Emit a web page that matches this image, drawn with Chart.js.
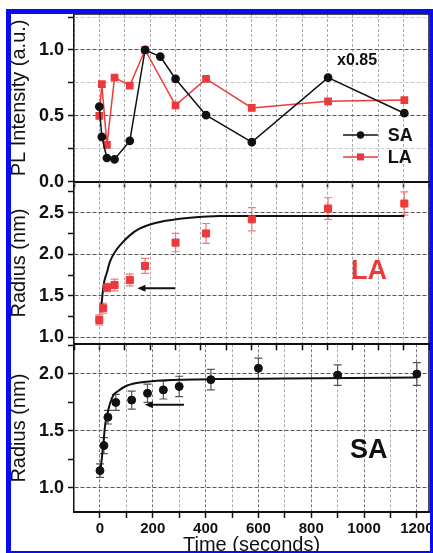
<!DOCTYPE html>
<html>
<head>
<meta charset="utf-8">
<script src="https://cdn.jsdelivr.net/npm/chart.js@4"></script>
<style>
  html, body { margin: 0; padding: 0; background: #fff; }
  #wrap { position: relative; width: 433px; height: 553px; overflow: hidden; background: #fff; }
  #wrap canvas { position: absolute; left: 0; top: 0; }
  #mask { position: absolute; left: 0; top: 0; width: 433px; height: 553px; box-sizing: border-box;
          border-style: solid; border-color: #fff; border-width: 9px 0 0 6px; z-index: 5; pointer-events: none; }
  #blue { width: 100%; height: 100%; box-sizing: border-box; border-style: solid; border-color: #0b0bf2;
          border-width: 5px 3px 2px 5px; }
</style>
</head>
<body>
<div id="wrap">
  <canvas id="plChart" width="460" height="553"></canvas>
  <canvas id="laChart" width="460" height="553"></canvas>
  <canvas id="saChart" width="460" height="565"></canvas>
  <div id="mask"><div id="blue"></div></div>
</div>
<script>
// --- données ---

// PL intensity (panneau du haut)
const plTimeSA = [0, 10, 30, 60, 120, 180, 240, 300, 420, 600, 900, 1200];
const plSA = [0.57, 0.34, 0.18, 0.17, 0.31, 1.0, 0.95, 0.78, 0.505, 0.30, 0.79, 0.52];
const plTimeLA = [0, 10, 30, 60, 120, 180, 300, 420, 600, 900, 1200];
const plLA = [0.50, 0.74, 0.28, 0.79, 0.73, 1.0, 0.58, 0.78, 0.56, 0.61, 0.62];

// Rayon LA (panneau du milieu)
const radTimeLA = [0, 15, 30, 60, 120, 180, 300, 420, 600, 900, 1200];
const radLA = [1.21, 1.35, 1.60, 1.63, 1.69, 1.86, 2.14, 2.25, 2.42, 2.55, 2.61];
const radErrLA = [0.06, 0.06, 0.05, 0.07, 0.07, 0.09, 0.11, 0.12, 0.14, 0.13, 0.14];
const fitTimeLA = [5, 9, 18, 29, 42, 62, 88, 121, 160, 213, 278, 357, 475, 700, 1200];
const fitLA = [1.30, 1.41, 1.65, 1.77, 1.91, 2.03, 2.13, 2.23, 2.31, 2.37, 2.41, 2.44, 2.46, 2.46, 2.46];

// Rayon SA (panneau du bas)
const radTimeSA = [0, 15, 30, 60, 120, 180, 240, 300, 420, 600, 900, 1200];
const radSA = [1.15, 1.37, 1.62, 1.75, 1.77, 1.83, 1.86, 1.89, 1.95, 2.05, 1.99, 2.00];
const radErrSA = [0.06, 0.07, 0.06, 0.07, 0.08, 0.08, 0.08, 0.09, 0.09, 0.09, 0.09, 0.10];
const fitTimeSA = [0, 6, 13, 19, 28, 38, 50, 69, 95, 139, 215, 316, 442, 700, 1200];
const fitSA = [1.11, 1.24, 1.39, 1.54, 1.65, 1.74, 1.81, 1.85, 1.89, 1.92, 1.94, 1.95, 1.955, 1.96, 1.97];

const FONT = '"Liberation Sans", Arial, sans-serif';
const RED = '#ec3a3c';
const INK = '#111';
Chart.defaults.font.family = FONT;

const pts = (t, v) => t.map((x, i) => ({ x: x, y: v[i] }));

// --- plugins ---

// cadre haut / droite
const frame = {
  id: 'frame',
  beforeDatasetsDraw(chart) {
    const { ctx, chartArea: a } = chart;
    ctx.save();
    ctx.strokeStyle = INK;
    ctx.lineWidth = 1.5;
    ctx.beginPath();
    ctx.moveTo(a.left, a.top); ctx.lineTo(a.right, a.top); ctx.lineTo(a.right, a.bottom);
    ctx.stroke();
    ctx.restore();
  }
};

// barres d'erreur
const errorBars = {
  id: 'errorBars',
  beforeDatasetsDraw(chart, args, opts) {
    const { ctx, scales: { x, y } } = chart;
    (opts.sets || []).forEach(s => {
      ctx.save();
      ctx.strokeStyle = s.color;
      ctx.lineWidth = 1.2;
      s.t.forEach((t, i) => {
        const px = x.getPixelForValue(t);
        const top = y.getPixelForValue(s.v[i] + s.e[i]);
        const bot = y.getPixelForValue(s.v[i] - s.e[i]);
        ctx.beginPath();
        ctx.moveTo(px, top); ctx.lineTo(px, bot);
        ctx.moveTo(px - 4, top); ctx.lineTo(px + 4, top);
        ctx.moveTo(px - 4, bot); ctx.lineTo(px + 4, bot);
        ctx.stroke();
      });
      ctx.restore();
    });
  }
};

// textes, flèches, légende
const notes = {
  id: 'notes',
  afterDatasetsDraw(chart, args, opts) {
    const { ctx, scales: { x, y } } = chart;
    ctx.save();
    (opts.texts || []).forEach(n => {
      ctx.font = n.font;
      ctx.fillStyle = n.color;
      ctx.textAlign = 'center';
      ctx.textBaseline = 'middle';
      ctx.fillText(n.text, x.getPixelForValue(n.x), y.getPixelForValue(n.y));
    });
    (opts.arrows || []).forEach(a => {
      const x1 = x.getPixelForValue(a.from), x2 = x.getPixelForValue(a.to), py = y.getPixelForValue(a.y);
      ctx.strokeStyle = INK; ctx.fillStyle = INK; ctx.lineWidth = 2;
      ctx.beginPath(); ctx.moveTo(x1, py); ctx.lineTo(x2 + 5, py); ctx.stroke();
      ctx.beginPath(); ctx.moveTo(x2, py); ctx.lineTo(x2 + 8, py - 3.5); ctx.lineTo(x2 + 8, py + 3.5);
      ctx.closePath(); ctx.fill();
    });
    (opts.legend || []).forEach(l => {
      const xa = x.getPixelForValue(l.from), xb = x.getPixelForValue(l.to), py = y.getPixelForValue(l.y);
      const xm = (xa + xb) / 2;
      ctx.strokeStyle = l.color; ctx.fillStyle = l.color; ctx.lineWidth = 1.5;
      ctx.beginPath(); ctx.moveTo(xa, py); ctx.lineTo(xb, py); ctx.stroke();
      ctx.beginPath();
      if (l.style === 'rect') ctx.rect(xm - 3.5, py - 3.5, 7, 7);
      else ctx.arc(xm, py, 3.7, 0, Math.PI * 2);
      ctx.fill();
      ctx.fillStyle = INK;
      ctx.font = 'bold 18px ' + FONT;
      ctx.textAlign = 'left';
      ctx.textBaseline = 'middle';
      ctx.fillText(l.label, x.getPixelForValue(l.textAt), py + 1);
    });
    ctx.restore();
  }
};

// --- axes ---

function xAxis(min, max, showLabels, height) {
  return {
    type: 'linear', min: min, max: max,
    afterFit: s => { s.height = height; },
    ticks: {
      stepSize: 100, includeBounds: false, display: showLabels, autoSkip: false, maxRotation: 0, padding: 2,
      color: INK, font: { size: 15, weight: 'bold' },
      callback: v => (v % 200 === 0 ? String(v) : '')
    },
    grid: {
      color: c => (c.tick && c.tick.value % 200 === 0 ? '#777' : '#aaa'),
      lineWidth: 1, tickLength: 6, tickColor: INK, tickWidth: 1.5
    },
    border: { color: INK, width: 2, dash: [3, 2] },
    title: {
      display: showLabels, text: 'Time (seconds)', color: INK,
      font: { size: 20 }, padding: { top: 0, bottom: 0 }
    }
  };
}

function yAxis(min, max, title, minorColor) {
  const major = v => Math.abs(v / 0.5 - Math.round(v / 0.5)) < 1e-6;
  return {
    min: min, max: max, position: 'left',
    afterFit: s => { s.width = 74; },
    ticks: {
      stepSize: 0.25, includeBounds: false, padding: 4, color: INK,
      font: { size: 18, weight: 'bold', lineHeight: 1 },
      callback: v => (major(v) ? v.toFixed(1) : '')
    },
    grid: {
      color: c => (c.tick && major(c.tick.value) ? '#555' : minorColor),
      lineWidth: 1, tickLength: 6, tickColor: INK, tickWidth: 1.5
    },
    border: { color: INK, width: 1.5, dash: [4, 2] },
    title: { display: true, text: title, color: INK, font: { size: 20 }, padding: { top: 7, bottom: 0 } }
  };
}

function baseOptions(padTop, padBottom, x, y, plugs) {
  return {
    responsive: false,
    animation: false,
    layout: { padding: { top: padTop, bottom: padBottom, left: 0, right: 31 } },
    plugins: Object.assign({ legend: { display: false }, tooltip: { enabled: false } }, plugs),
    scales: { x: x, y: y }
  };
}

// --- panneau 1 : PL intensity ---
new Chart(document.getElementById('plChart'), {
  type: 'line',
  data: {
    datasets: [
      { label: 'SA', data: pts(plTimeSA, plSA), borderColor: INK, backgroundColor: INK,
        borderWidth: 1.5, pointStyle: 'circle', pointRadius: 3.6, tension: 0 },
      { label: 'LA', data: pts(plTimeLA, plLA), borderColor: RED, backgroundColor: RED,
        borderWidth: 1.5, pointStyle: 'rect', pointRadius: 4.4, tension: 0 }
    ]
  },
  options: baseOptions(14, 553 - 181.7 - 6,
    xAxis(-99.5, 1297, false, 6),
    yAxis(0, 1.273, 'PL Intensity (a.u.)', '#c8c8c8'),
    {
      notes: {
        texts: [{ text: 'x0.85', x: 1014, y: 0.917, font: 'bold 16px ' + FONT, color: INK }],
        legend: [
          { label: 'SA', color: INK, style: 'circle', from: 959, to: 1096, textAt: 1135, y: 0.355 },
          { label: 'LA', color: RED, style: 'rect', from: 959, to: 1096, textAt: 1135, y: 0.188 }
        ]
      }
    }),
  plugins: [frame, notes]
});

// --- panneau 2 : rayon LA ---
new Chart(document.getElementById('laChart'), {
  type: 'line',
  data: {
    datasets: [
      { label: 'LA', data: pts(radTimeLA, radLA), showLine: false, borderColor: RED, backgroundColor: RED,
        pointStyle: 'rect', pointRadius: 5 },
      { label: 'fit', data: pts(fitTimeLA, fitLA), borderColor: INK, borderWidth: 2,
        pointRadius: 0, cubicInterpolationMode: 'monotone' }
    ]
  },
  options: baseOptions(181.7, 553 - 344.3 - 6,
    xAxis(-99.5, 1297, false, 6),
    yAxis(0.916, 2.873, 'Radius (nm)', 'rgba(0,0,0,0)'),
    {
      errorBars: { sets: [{ t: radTimeLA, v: radLA, e: radErrLA, color: '#f07a7a' }] },
      notes: {
        texts: [{ text: 'LA', x: 1061, y: 1.79, font: 'bold 27px ' + FONT, color: RED }],
        arrows: [{ from: 298, to: 150, y: 1.59 }]
      }
    }),
  plugins: [frame, errorBars, notes]
});

// --- panneau 3 : rayon SA ---
new Chart(document.getElementById('saChart'), {
  type: 'line',
  data: {
    datasets: [
      { label: 'SA', data: pts(radTimeSA, radSA), showLine: false, borderColor: INK, backgroundColor: INK,
        pointStyle: 'circle', pointRadius: 4 },
      { label: 'fit', data: pts(fitTimeSA, fitSA), borderColor: INK, borderWidth: 2,
        pointRadius: 0, cubicInterpolationMode: 'monotone' }
    ]
  },
  options: baseOptions(344.3, 7.5,
    xAxis(-98.4, 1246, true, 45.5),
    yAxis(0.786, 2.261, 'Radius (nm)', 'rgba(0,0,0,0)'),
    {
      errorBars: { sets: [{ t: radTimeSA, v: radSA, e: radErrSA, color: '#555' }] },
      notes: {
        texts: [{ text: 'SA', x: 1018, y: 1.33, font: 'bold 27px ' + FONT, color: INK }],
        arrows: [{ from: 318, to: 170, y: 1.73 }]
      }
    }),
  plugins: [frame, errorBars, notes]
});
</script>
</body>
</html>
